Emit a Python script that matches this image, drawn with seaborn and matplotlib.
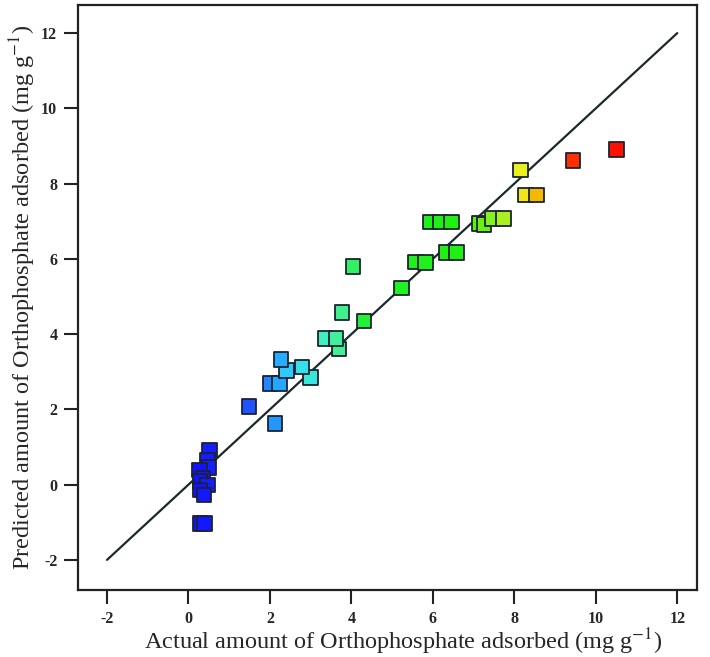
import pandas as pd
import matplotlib
matplotlib.use("Agg")
import matplotlib.pyplot as plt
from matplotlib.colors import LinearSegmentedColormap, Normalize
import seaborn as sns

# Actual vs predicted orthophosphate adsorbed (mg g-1)
actual = [0.51, 0.46, 0.49, 0.27, 0.36, 0.28, 0.46, 0.28, 0.38, 0.28, 0.40,
          1.49, 2.12, 2.00, 2.23, 3.00, 2.41, 2.79, 2.27, 3.70, 3.35, 3.62,
          4.31, 3.77, 5.23, 4.04, 5.58, 5.82, 6.32, 6.58, 5.93, 6.19, 6.46,
          7.14, 7.25, 7.46, 7.74, 8.28, 8.54, 8.15, 9.44, 10.51]
predicted = [0.92, 0.66, 0.46, 0.39, 0.17, 0.08, -0.01, -0.14, -0.27, -1.03, -1.03,
             2.07, 1.63, 2.69, 2.69, 2.85, 3.03, 3.13, 3.33, 3.60, 3.89, 3.89,
             4.35, 4.57, 5.23, 5.79, 5.92, 5.90, 6.17, 6.17, 6.98, 6.98, 6.98,
             6.94, 6.92, 7.07, 7.07, 7.70, 7.70, 8.36, 8.61, 8.91]
ticks = [-2, 0, 2, 4, 6, 8, 10, 12]

df = pd.DataFrame({"Actual": actual, "Predicted": predicted})

# blue -> cyan -> green -> yellow -> red, like the Design-Expert palette
cmap = LinearSegmentedColormap.from_list(
    "de", [(0.0, "#1010ff"), (0.12, "#2050ff"), (0.18, "#2090ff"),
           (0.22, "#30d8ff"), (0.30, "#40f0c0"), (0.34, "#40f090"),
           (0.40, "#20f030"), (0.62, "#20f010"), (0.72, "#a0f020"),
           (0.77, "#f0f020"), (0.80, "#f0c000"), (0.83, "#ff8800"),
           (0.90, "#ff2000"), (1.0, "#ff1000")])

sns.set_style("white")
plt.rcParams["font.family"] = ["Liberation Serif", "DejaVu Serif"]
plt.rcParams["mathtext.fontset"] = "stix"

fig = plt.figure(figsize=(7.1, 6.57), dpi=100)
ax = fig.add_axes([0.110, 0.102, 0.872, 0.890])

# y = x reference line
ax.plot([-2, 12], [-2, 12], color="#1a2a2a", lw=1.6, zorder=1)
sns.scatterplot(data=df, x="Actual", y="Predicted", hue="Actual",
                palette=cmap, hue_norm=Normalize(0.2, 10.6), marker="s",
                s=110, edgecolor="#1c2230", linewidth=1.3, legend=False,
                ax=ax, zorder=2)

ax.set_xlim(-2.71, 12.49)
ax.set_ylim(-2.8, 12.74)
ax.set_xticks(ticks)
ax.set_yticks(ticks)
ax.set_xticklabels([str(t) for t in ticks], fontweight="bold", fontsize=11.5)
ax.set_yticklabels([str(t) for t in ticks], fontweight="bold", fontsize=11.5)
ax.tick_params(axis="both", direction="out", length=10, width=1.5,
               color="#222222", bottom=True, left=True, pad=5)
for sp in ax.spines.values():
    sp.set_color("#222222")
    sp.set_linewidth(1.6)

ax.set_xlabel(r"Actual amount of Orthophosphate adsorbed (mg g$^{\mathrm{-1}}$)",
              fontsize=17.5, labelpad=0)
ax.xaxis.label.set_x(0.525)
ax.set_ylabel(r"Predicted amount of Orthophosphate adsorbed (mg g$^{\mathrm{-1}}$)",
              fontsize=17.5, labelpad=2)

fig.savefig("out.png", dpi=100)
